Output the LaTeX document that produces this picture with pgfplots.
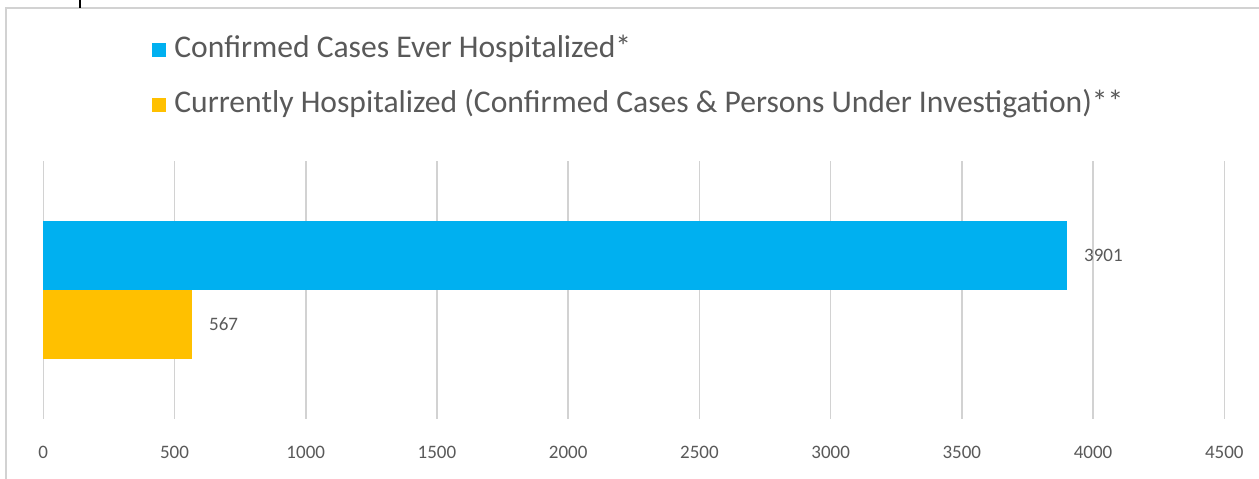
\documentclass[border=0pt]{standalone}
\usepackage{pgfplots}
\pgfplotsset{compat=1.18}
\usepackage{fontspec}
\setmainfont{Carlito}
\definecolor{cblue}{HTML}{00B0F0}
\definecolor{corange}{HTML}{FFC000}
\definecolor{txt}{HTML}{595959}
\begin{document}
\begin{tikzpicture}[x=1pt,y=1pt]
\path[use as bounding box] (0,0) rectangle (629.5,239);
\draw[color=gray!35,line width=0.8pt] (3,-2) -- (3,235) -- (632,235);
\begin{axis}[at={(16.5,46)},anchor=south west,
  width=590.5pt,height=129pt,scale only axis,
  xbar, bar width=34.5pt,
  xmin=0,xmax=4500,ymin=-1,ymax=1,
  xtick={0,500,...,4500},ytick=\empty,
  xmajorgrids, major grid style={color=gray!35,line width=0.8pt},
  axis line style={draw=none}, tick style={draw=none},
  xticklabel style={font=\fontsize{9.5}{11}\selectfont,color=txt,yshift=-10pt},
  /pgf/number format/assume math mode=true,
  /pgf/number format/1000 sep={},
  nodes near coords, nodes near coords style={font=\fontsize{9.5}{11}\selectfont,color=txt,xshift=5pt},
  clip=false]
\addplot[fill=cblue,draw=none,bar shift=17.25pt] coordinates {(3901,0)};
\addplot[fill=corange,draw=none,bar shift=-17.25pt] coordinates {(567,0)};
\end{axis}
\fill[cblue] (76,210.5) rectangle (83,217.5);
\node[anchor=west,color=txt,font=\fontsize{15.8}{18}\selectfont,inner sep=0] at (87,214.5) {Confirmed Cases Ever Hospitalized*};
\fill[corange] (76,183) rectangle (83,190);
\node[anchor=west,color=txt,font=\fontsize{15.8}{18}\selectfont,inner sep=0] at (87,187) {Currently Hospitalized (Confirmed Cases \& Persons Under Investigation)**};
\draw[line width=1pt] (40,239) -- (40,235);
\end{tikzpicture}
\end{document}
